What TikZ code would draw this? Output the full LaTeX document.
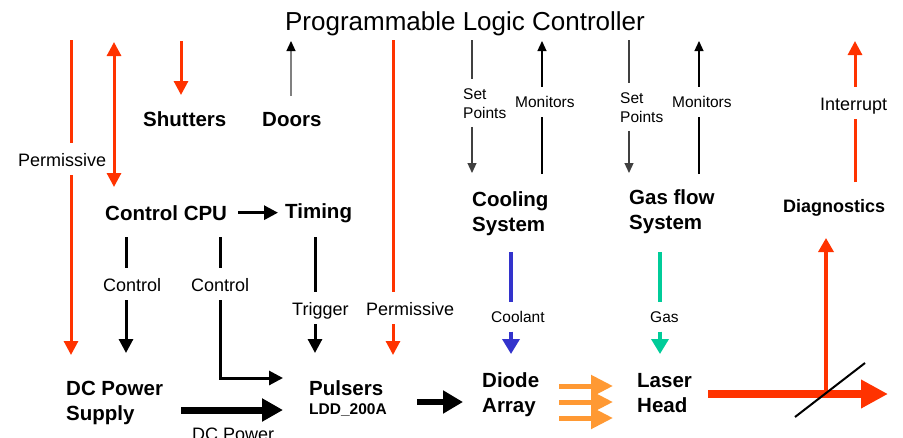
\documentclass[tikz,border=0pt]{standalone}
\usepackage{fontspec}
\setmainfont{Liberation Sans}
\usepackage{xcolor}
\usetikzlibrary{arrows.meta,positioning}

\definecolor{plcred}{HTML}{FF3300}
\definecolor{coolblue}{HTML}{3333CC}
\definecolor{gasgreen}{HTML}{00CC99}
\definecolor{pumporange}{HTML}{FF9933}
\definecolor{setgray}{HTML}{404040}
\definecolor{doorgray}{HTML}{808080}

\tikzset{
  unit/.style={font=\fontsize{20.5}{25}\selectfont\bfseries, align=left, inner sep=0pt, anchor=base west},
  tag/.style={font=\fontsize{18}{21}\selectfont, inner xsep=0pt, inner ysep=7pt, text height=16pt, text depth=2pt, anchor=base west},
  small tag/.style={font=\fontsize{15.5}{19}\selectfont, inner xsep=0pt, inner ysep=7pt, text height=13pt, text depth=2.5pt, anchor=base west},
  setpts/.style={font=\fontsize{15.5}{19}\selectfont, align=left, inner xsep=0pt, inner ysep=8.5pt, anchor=base west},
  redline/.style={draw=plcred, line width=3pt},
  redarr/.style={redline, -{Triangle[length=14pt,width=14pt]}},
  redboth/.style={redline, {Triangle[length=14pt,width=14pt]}-{Triangle[length=14pt,width=14pt]}},
  blkline/.style={draw=black, line width=3pt},
  blkarr/.style={blkline, -{Triangle[length=14pt,width=14pt]}},
  monline/.style={draw=black, line width=1.2pt},
  monarr/.style={monline, -{Triangle[length=10pt,width=9pt]}},
  setline/.style={draw=setgray, line width=1.2pt},
  setarr/.style={setline, -{Triangle[length=10pt,width=9pt]}},
  doorarr/.style={draw=doorgray, line width=1.2pt, -{Triangle[length=10pt,width=9pt,color=black]}},
  flowarr/.style={line width=3.5pt, -{Triangle[length=15pt,width=17pt]}},
  pumparr/.style={draw=pumporange, line width=5pt, -{Triangle[length=22pt,width=21pt]}},
}

\begin{document}
\begin{tikzpicture}[x=1pt, y=-1pt]
  \path[use as bounding box, fill=white] (0,0) rectangle (903,437);

  \node[font=\fontsize{26}{30}\selectfont, anchor=base] (plc) at (465,30) {Programmable Logic Controller};

  % blocks (multi-line ones sit on their last baseline)
  \node[unit] (shutters) at (143,126) {Shutters};
  \node[unit] (doors) at (262,126) {Doors};
  \node[unit] (cpu) at (105,220) {Control CPU};
  \node[unit] (timing) at (285,218) {Timing};
  \node[unit] (cooling) at (472,231) {Cooling\\System};
  \node[unit] (gasflow) at (629,229) {Gas flow\\System};
  \node[unit, font=\fontsize{18}{21}\selectfont\bfseries] (diag) at (783,212) {Diagnostics};
  \node[unit] (dcps) at (66,420) {DC Power\\Supply};
  \node[unit] (pulsers) at (309,414) {Pulsers\\[-6pt]{\fontsize{15.5}{19}\selectfont LDD\_200A}};
  \node[unit] (diode) at (482,412) {Diode\\Array};
  \node[unit] (laser) at (637,412) {Laser\\Head};

  % labels
  \node[tag] (perm1) at (18,166) {Permissive};
  \node[tag] (ctl1) at (103,291) {Control};
  \node[tag] (ctl2) at (191,291) {Control};
  \node[tag] (trig) at (292,315) {Trigger};
  \node[tag] (perm2) at (366,315) {Permissive};
  \node[tag] (pwrlbl) at (192,440) {DC Power};
  \node[setpts] (setc) at (463,118) {Set\\Points};
  \node[small tag] (monc) at (515,107) {Monitors};
  \node[setpts] (setg) at (620,122) {Set\\Points};
  \node[small tag] (mong) at (672,107) {Monitors};
  \node[tag] (intr) at (820,110) {Interrupt};
  \node[small tag] (coolant) at (491,322) {Coolant};
  \node[small tag] (gaslbl) at (650,322) {Gas};

  % links to the PLC
  \coordinate (plcperm1) at (71,40);
  \coordinate (dcpsperm) at (71,355);
  \draw[redline] (plcperm1) -- (plcperm1 |- perm1.north);
  \draw[redarr] (plcperm1 |- perm1.south) -- (dcpsperm);

  \coordinate (plccpu) at (114,42);
  \coordinate (cpuplc) at (114,187);
  \draw[redboth] (plccpu) -- (cpuplc);

  \coordinate (plcshut) at (181,41);
  \coordinate (shutplc) at (181,95);
  \draw[redarr] (plcshut) -- (shutplc);

  \coordinate (doorplc) at (291,96);
  \coordinate (plcdoor) at (291,41);
  \draw[doorarr] (doorplc) -- (plcdoor);

  \coordinate (plcperm2) at (393,40);
  \coordinate (pulsperm) at (393,355);
  \draw[redline] (plcperm2) -- (plcperm2 |- perm2.north);
  \draw[redarr] (plcperm2 |- perm2.south) -- (pulsperm);

  \coordinate (plcsetc) at (472,40);
  \coordinate (coolset) at (472,173);
  \draw[setline] (plcsetc) -- (plcsetc |- setc.north);
  \draw[setarr] (plcsetc |- setc.south) -- (coolset);

  \coordinate (coolmon) at (542,174);
  \coordinate (plcmonc) at (542,41);
  \draw[monline] (coolmon) -- (coolmon |- monc.south);
  \draw[monarr] (coolmon |- monc.north) -- (plcmonc);

  \coordinate (plcsetg) at (629,40);
  \coordinate (gasset) at (629,173);
  \draw[setline] (plcsetg) -- (plcsetg |- setg.north);
  \draw[setarr] (plcsetg |- setg.south) -- (gasset);

  \coordinate (gasmon) at (699,174);
  \coordinate (plcmong) at (699,41);
  \draw[monline] (gasmon) -- (gasmon |- mong.south);
  \draw[monarr] (gasmon |- mong.north) -- (plcmong);

  \coordinate (diagint) at (855,182);
  \coordinate (plcint) at (855,41);
  \draw[redline] (diagint) -- (diagint |- intr.south);
  \draw[redarr] (diagint |- intr.north) -- (plcint);

  % control chain
  \draw[blkarr] ([xshift=11pt]cpu.east) -- ([xshift=-7pt]timing.west |- cpu.east);

  \coordinate (cpuctl1) at (126,237);
  \coordinate (dcpsctl) at (126,353);
  \draw[blkline] (cpuctl1) -- (cpuctl1 |- ctl1.north);
  \draw[blkarr] (cpuctl1 |- ctl1.south) -- (dcpsctl);

  \coordinate (cpuctl2) at (220,237);
  \coordinate (pulsctl) at (283,378);
  \draw[blkline] (cpuctl2) -- (cpuctl2 |- ctl2.north);
  \draw[blkarr] (cpuctl2 |- ctl2.south) |- (pulsctl);

  \coordinate (timtrig) at (315,237);
  \coordinate (pulstrig) at (315,353);
  \draw[blkline] (timtrig) -- (timtrig |- trig.north);
  \draw[blkarr] (timtrig |- trig.south) -- (pulstrig);

  \coordinate (dcpspwr) at (181,410);
  \coordinate (pulspwr) at (283,410);
  \draw[line width=7pt, -{Triangle[length=21pt,width=22pt]}] (dcpspwr) -- (pulspwr);

  \coordinate (pulsout) at (417,402);
  \coordinate (diodein) at (463,402);
  \draw[line width=6pt, -{Triangle[length=20pt,width=22pt]}] (pulsout) -- (diodein);

  % coolant and gas
  \coordinate (coolout) at (511,252);
  \coordinate (diodecool) at (511,354);
  \draw[coolblue, line width=3.5pt] (coolout) -- (coolout |- coolant.north);
  \draw[coolblue, flowarr] (coolout |- coolant.south) -- (diodecool);

  \coordinate (gasout) at (660,252);
  \coordinate (lasergas) at (660,354);
  \draw[gasgreen, line width=3.5pt] (gasout) -- (gasout |- gaslbl.north);
  \draw[gasgreen, flowarr] (gasout |- gaslbl.south) -- (lasergas);

  % pump light
  \foreach \yy in {386,402,418}
    \draw[pumparr] (559,\yy) -- (613,\yy);

  % laser beam and pick-off
  \coordinate (beamstart) at (708,394);
  \coordinate (beamend) at (888,394);
  \coordinate (pickoff) at (826,394);
  \coordinate (diagin) at (826,238);
  \draw[draw=plcred, line width=8pt, -{Triangle[length=27pt,width=27pt]}] (beamstart) -- (beamend);
  \draw[draw=plcred, line width=3.3pt, -{Triangle[length=14pt,width=15pt]}] (pickoff) -- (diagin);
  \draw[line width=2pt] (795,417) -- (865,363);
\end{tikzpicture}
\end{document}
